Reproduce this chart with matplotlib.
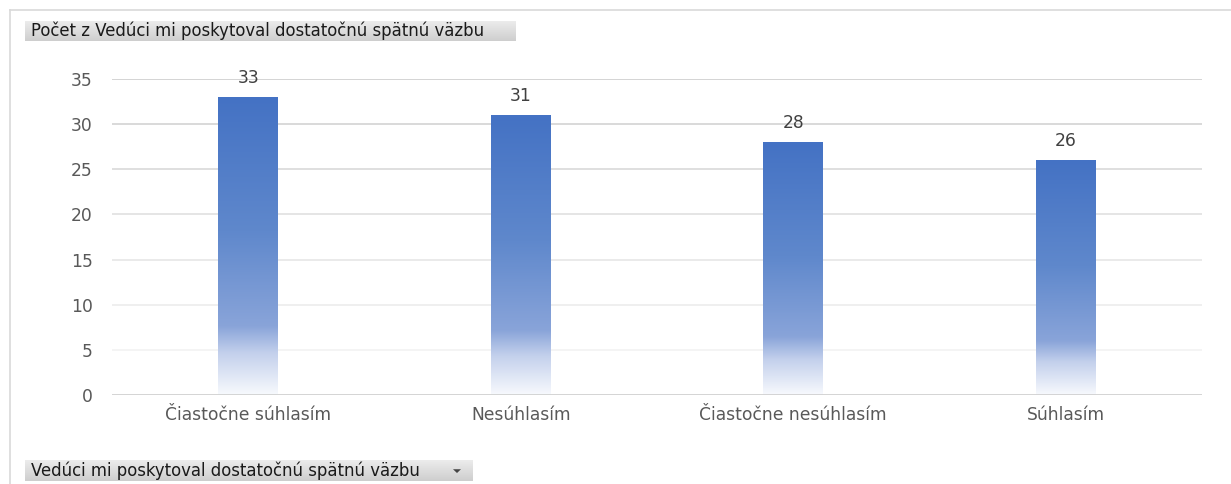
import numpy as np
import matplotlib
matplotlib.use("Agg")
from matplotlib import pyplot as plt
from matplotlib.colors import LinearSegmentedColormap, to_rgb
from matplotlib.lines import Line2D

categories = ["Čiastočne súhlasím", "Nesúhlasím", "Čiastočne nesúhlasím", "Súhlasím"]
counts = [33, 31, 28, 26]
yticks = [0, 5, 10, 15, 20, 25, 30, 35]

title_text = "Počet z Vedúci mi poskytoval dostatočnú spätnú väzbu"
field_text = "Vedúci mi poskytoval dostatočnú spätnú väzbu"

W, H = 1231, 484
fig = plt.figure(figsize=(W / 100, H / 100), dpi=100)
fig.patch.set_facecolor("white")

# outer frame of the pivot chart
fig.add_artist(Line2D([10 / W, 1], [1 - 10 / H, 1 - 10 / H], color="#d9d9d9", lw=1.2))
fig.add_artist(Line2D([10 / W, 10 / W], [0, 1 - 10 / H], color="#d9d9d9", lw=1.2))

ax = fig.add_axes([112 / W, 89 / H, 1090 / W, 316 / H])
for s in ax.spines.values():
    s.set_visible(False)

# gridlines fade out towards the bottom
grid_top = np.array(to_rgb("#cdcdcd"))
grid_low = np.array(to_rgb("#f2f2f2"))
for t in yticks[1:]:
    f = (t - 5) / 30
    ax.axhline(t, color=grid_low + (grid_top - grid_low) * f, lw=1.2, zorder=0)
ax.axhline(0, color="#d4d4d4", lw=1.4, zorder=3)

# bar fill: solid blue at top, fading to white near the axis
bar_cmap = LinearSegmentedColormap.from_list(
    "barfade",
    [(0.0, "#4472c4"), (0.45, "#5f88cc"), (0.77, "#89a4d9"), (0.86, "#c3d0ec"), (1.0, "#f7f9fd")],
)
grad = np.linspace(0, 1, 256).reshape(-1, 1)
bw = 0.22
lab_font = "DejaVu Sans"
for i, v in enumerate(counts):
    ax.imshow(grad, cmap=bar_cmap, aspect="auto", extent=[i - bw / 2, i + bw / 2, 0, v],
              origin="upper", zorder=2, interpolation="bilinear")
    ax.text(i, v + 1.15, str(v), ha="center", va="bottom", fontsize=12.3,
            color="#404040", family=lab_font)
ax.set_xlim(-0.5, len(categories) - 0.5)
ax.set_ylim(0, 35)

ax.set_yticks(yticks)
ax.set_yticklabels([str(t) for t in yticks], fontsize=12.3, color="#595959", family=lab_font)
ax.set_xticks(range(len(categories)))
ax.set_xticklabels(categories, fontsize=12.3, color="#595959", family=lab_font)
ax.tick_params(axis="both", length=0)
ax.tick_params(axis="y", pad=14)
ax.tick_params(axis="x", pad=8)


def field_button(x0, y0, x1, y1, text, arrow=False):
    bax = fig.add_axes([x0 / W, 1 - y1 / H, (x1 - x0) / W, (y1 - y0) / H])
    cm = LinearSegmentedColormap.from_list("btn", ["#ececec", "#cecece"])
    bax.imshow(np.linspace(0, 1, 64).reshape(-1, 1), cmap=cm, aspect="auto",
               extent=[0, 1, 0, 1], origin="upper")
    bax.set_xlim(0, 1)
    bax.set_ylim(0, 1)
    bax.axis("off")
    bax.text(6 / (x1 - x0), 0.5, text, ha="left", va="center", fontsize=11.9,
             color="#1a1a1a", family="DejaVu Sans")
    if arrow:
        ax_w = x1 - x0
        cx = (x1 - 16 - x0) / ax_w
        bax.fill([cx - 4 / ax_w, cx + 4 / ax_w, cx], [0.56, 0.56, 0.38], color="#444444", lw=0)


field_button(25, 21, 516, 41, title_text)
field_button(25, 460, 473, 481, field_text, arrow=True)

fig.savefig("out.png", dpi=100, facecolor="white")
